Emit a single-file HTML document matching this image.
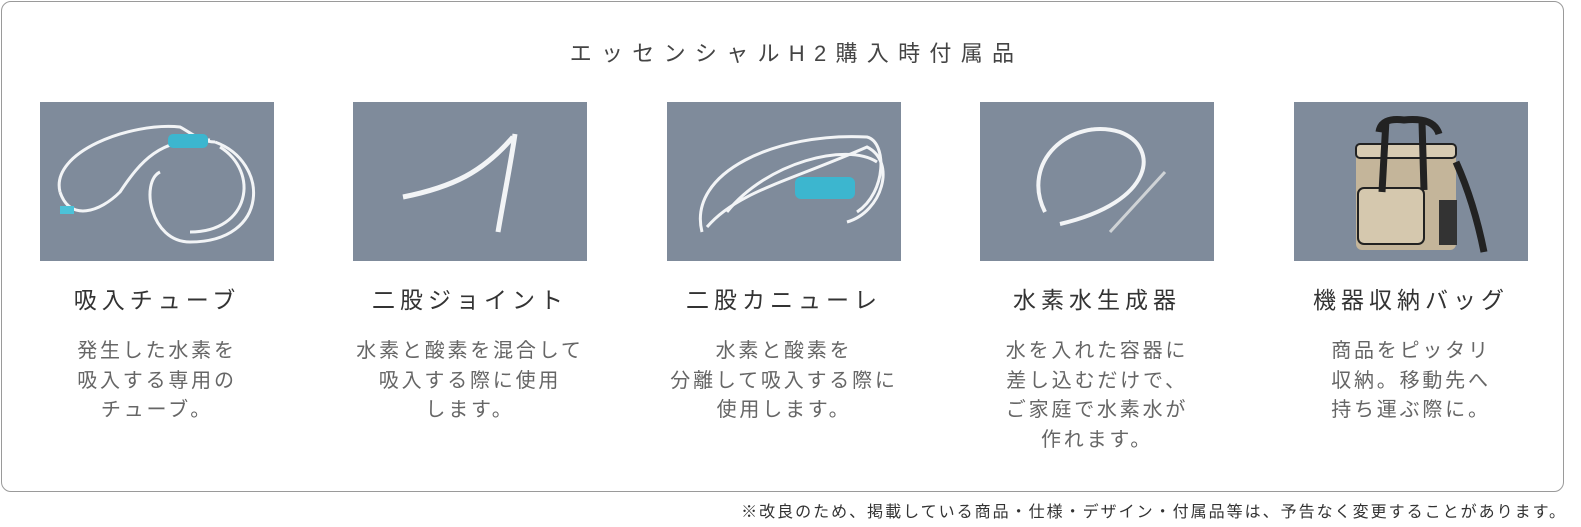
<!DOCTYPE html>
<html><head><meta charset="utf-8"><style>
body{margin:0;width:1581px;height:527px;background:#fff;font-family:"Liberation Sans","Noto Sans CJK JP",sans-serif;position:relative;overflow:hidden}
.box{position:absolute;left:1px;top:1px;width:1563px;height:491px;border:1px solid #9a9a9a;border-radius:10px;box-sizing:border-box}
.title{position:absolute;top:36px;left:0;width:1581px;text-align:center;font-size:22px;letter-spacing:9.3px;color:#444;padding-left:6px}
.col{position:absolute;top:102px;width:234px}
.img{width:234px;height:159px;background:#7f8b9b}
.name{text-align:center;font-size:23px;letter-spacing:5px;color:#333;margin-top:24px;line-height:30px;white-space:nowrap;margin-left:-30px;margin-right:-30px}
.desc{text-align:center;font-size:20px;color:#666;line-height:29.5px;margin-top:22px;white-space:nowrap;letter-spacing:2.8px;margin-left:-30px;margin-right:-30px}
.note{position:absolute;right:14px;top:498px;font-size:16px;letter-spacing:2px;color:#333;white-space:nowrap}
</style></head><body>
<div class="box"></div>
<div class="title">エッセンシャルH2購入時付属品</div>

<div class="col" style="left:40px"><div class="img"><svg width="234" height="159"><g fill="none" stroke="#f2f4f6" stroke-width="3"><path d="M20 90 C10 50 90 20 140 25 C150 30 160 40 175 40"/><path d="M20 90 C30 120 60 110 80 90 C100 60 120 35 170 38"/><path d="M175 40 C230 60 230 140 150 140 C110 140 100 80 120 70"/><path d="M180 45 C220 70 210 130 150 130"/></g><rect x="128" y="32" width="40" height="14" rx="5" fill="#3cb6cf"/><rect x="20" y="104" width="14" height="8" fill="#4cc2d8"/></svg></div><div class="name">吸入チューブ</div><div class="desc">発生した水素を<br>吸入する専用の<br>チューブ。</div></div>

<div class="col" style="left:353px"><div class="img"><svg width="234" height="159"><g fill="none" stroke="#f2f4f6" stroke-width="5"><path d="M50 95 C100 85 130 70 160 35"/><path d="M145 130 C150 100 158 60 162 32"/></g></svg></div><div class="name">二股ジョイント</div><div class="desc">水素と酸素を混合して<br>吸入する際に使用<br>します。</div></div>

<div class="col" style="left:667px"><div class="img"><svg width="234" height="159"><g fill="none" stroke="#f2f4f6" stroke-width="3"><path d="M35 130 C20 70 110 30 200 35 C220 40 220 90 190 110"/><path d="M40 125 C70 90 120 80 200 45 C230 60 215 110 180 120"/><path d="M60 110 C100 60 180 40 210 60"/></g><rect x="128" y="75" width="60" height="22" rx="6" fill="#3cb6cf"/></svg></div><div class="name">二股カニューレ</div><div class="desc">水素と酸素を<br>分離して吸入する際に<br>使用します。</div></div>

<div class="col" style="left:980px"><div class="img"><svg width="234" height="159"><g fill="none"><path d="M65 110 C40 60 90 15 140 30 C180 45 175 100 80 122" stroke="#f2f4f6" stroke-width="4"/><path d="M130 130 L185 70" stroke="#cfd3d6" stroke-width="3"/></g></svg></div><div class="name">水素水生成器</div><div class="desc">水を入れた容器に<br>差し込むだけで、<br>ご家庭で水素水が<br>作れます。</div></div>

<div class="col" style="left:1294px"><div class="img"><svg width="234" height="159"><path d="M85 30 Q87 15 110 18 Q140 15 145 32" fill="none" stroke="#222" stroke-width="7"/><rect x="62" y="48" width="100" height="100" rx="6" fill="#c4b59a"/><rect x="62" y="42" width="100" height="14" rx="4" fill="#d8cbb2" stroke="#222" stroke-width="2"/><rect x="64" y="86" width="66" height="56" rx="6" fill="#d5c8ae" stroke="#222" stroke-width="2"/><path d="M92 18 L88 90 M128 20 L130 88" stroke="#222" stroke-width="7"/><path d="M162 60 Q180 100 190 150" stroke="#222" stroke-width="7" fill="none"/><rect x="145" y="98" width="18" height="45" fill="#333"/></svg></div><div class="name">機器収納バッグ</div><div class="desc">商品をピッタリ<br>収納。移動先へ<br>持ち運ぶ際に。</div></div>

<div class="note">※改良のため、掲載している商品・仕様・デザイン・付属品等は、予告なく変更することがあります。</div>
</body></html>
